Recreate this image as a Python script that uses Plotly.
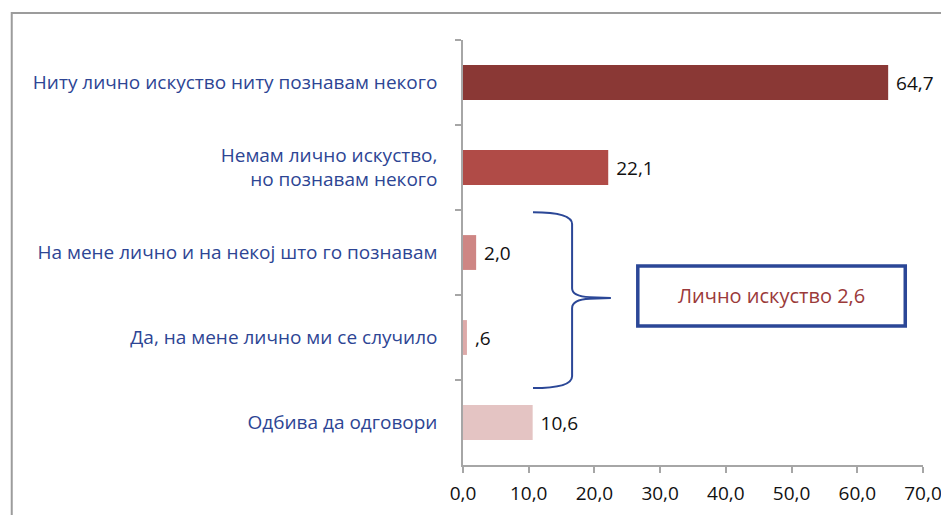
import plotly.graph_objects as go

categories = [
    "Ниту лично искуство ниту познавам некого",
    "Немам лично искуство,<br>но познавам некого",
    "На мене лично и на некој што го познавам",
    "Да, на мене лично ми се случило",
    "Одбива да одговори",
]
values = [64.7, 22.1, 2.0, 0.6, 10.6]
bar_colors = ["#8A3835", "#B04B47", "#CE8684", "#DDAAA9", "#E4C4C3"]
x_ticks = [0, 10, 20, 30, 40, 50, 60, 70]
box_label = "Лично искуство 2,6"


def fmt(v):
    s = f"{v:.1f}".replace(".", ",")
    return s[1:] if s.startswith("0,") else s


labels = ["\u00a0" + fmt(v) for v in values]

FONT = "Open Sans"
BLUE = "#2D4594"
GREY = "#A6A6A6"

fig = go.Figure(
    go.Bar(
        x=values,
        y=categories,
        orientation="h",
        marker=dict(color=bar_colors, line=dict(width=0)),
        width=0.41,
        text=labels,
        textposition="outside",
        cliponaxis=False,
        textfont=dict(family=FONT, size=19, color="#111111"),
        hoverinfo="skip",
    )
)

fig.update_layout(
    width=941,
    height=515,
    margin=dict(l=463, r=18, t=40, b=50, autoexpand=False),
    paper_bgcolor="white",
    plot_bgcolor="white",
    showlegend=False,
    separators=", ",
    font=dict(family=FONT, size=19),
)

fig.update_xaxes(
    range=[0, 70],
    tickvals=x_ticks,
    tickformat=".1f",
    showgrid=False,
    zeroline=False,
    showline=True,
    linecolor=GREY,
    linewidth=1.5,
    ticks="outside",
    ticklen=6,
    tickcolor=GREY,
    tickwidth=1.5,
    ticklabelstandoff=4,
    ticklabeloverflow="allow",
    automargin=False,
    tickfont=dict(family=FONT, size=19, color="#111111"),
)
fig.update_yaxes(
    autorange="reversed",
    showgrid=False,
    showline=True,
    linecolor=GREY,
    linewidth=1.5,
    ticks="outside",
    tickson="boundaries",
    ticklen=6,
    tickcolor=GREY,
    tickwidth=1.5,
    ticklabelstandoff=20,
    automargin=False,
    tickfont=dict(family=FONT, size=19, color=BLUE),
)

# outer frame
fig.add_shape(type="rect", xref="paper", yref="paper",
              x0=-0.981, x1=1.06, y0=-0.15, y1=1.0635,
              line=dict(color="#9C9C9C", width=2), layer="below")

# curly brace
brace = ("M 10.65,0.595 Q 16.6,0.595 16.6,0.567 L 16.6,0.416 "
         "Q 16.6,0.397 19.3,0.395 L 22.5,0.393 L 19.3,0.391 "
         "Q 16.6,0.389 16.6,0.369 L 16.6,0.209 Q 16.6,0.181 10.65,0.181")
fig.add_shape(type="path", xref="x", yref="paper", path=brace,
              line=dict(color="#2B4797", width=2))

# box with total
fig.add_shape(type="rect", xref="x", yref="paper",
              x0=26.6, x1=67.3, y0=0.327, y1=0.468,
              line=dict(color="#2B4797", width=3.5), fillcolor="white")
fig.add_annotation(xref="x", yref="paper", x=46.95, y=0.398,
                   text=box_label, showarrow=False,
                   font=dict(family=FONT, size=20, color="#9B3A3A"))

fig.write_html(
    "out.html",
    config={"displayModeBar": False},
    post_script="document.body.style.margin='0';document.body.style.overflow='hidden';",
)
